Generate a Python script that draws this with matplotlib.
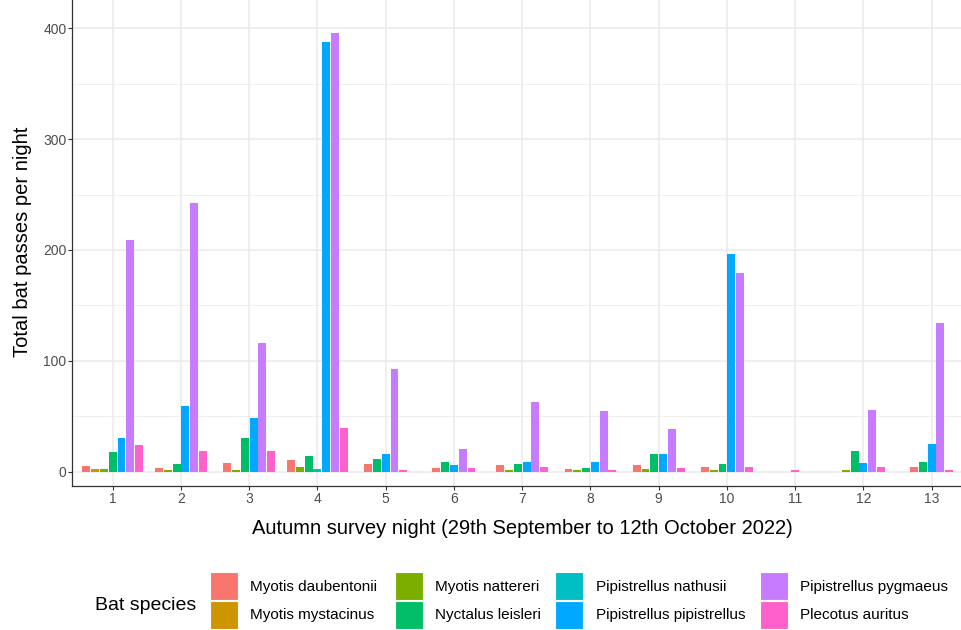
import matplotlib
matplotlib.use("Agg")
import matplotlib.pyplot as plt
from matplotlib.patches import Rectangle

plt.rcParams['font.family'] = ['Liberation Sans', 'DejaVu Sans']

nights = list(range(1, 14))
species = ["Myotis daubentonii", "Myotis mystacinus", "Myotis nattereri",
           "Nyctalus leisleri", "Pipistrellus nathusii", "Pipistrellus pipistrellus",
           "Pipistrellus pygmaeus", "Plecotus auritus"]
colors = ["#F8766D", "#CD9600", "#7CAE00", "#00BE67", "#00BFC4", "#00A9FF",
          "#C77CFF", "#FF61CC"]

m_daubentonii = [5, 3, 8, 10, 7, 3, 6, 2, 6, 4, 0, 0, 4]
m_mystacinus  = [2, 0, 0, 0, 0, 0, 0, 0, 0, 0, 0, 0, 0]
m_nattereri   = [2, 1, 1, 4, 0, 0, 1, 1, 2, 1, 0, 1, 0]
n_leisleri    = [18, 7, 30, 14, 11, 9, 7, 3, 16, 7, 0, 19, 9]
p_nathusii    = [0, 0, 0, 2, 0, 0, 0, 0, 0, 0, 0, 0, 0]
p_pipistrellus = [30, 59, 48, 388, 16, 6, 9, 9, 16, 196, 0, 8, 25]
p_pygmaeus    = [209, 242, 116, 396, 93, 20, 63, 55, 38, 179, 0, 56, 134]
p_auritus     = [24, 19, 19, 39, 1, 3, 4, 1, 3, 4, 1, 4, 1]

values = [m_daubentonii, m_mystacinus, m_nattereri, n_leisleri, p_nathusii,
          p_pipistrellus, p_pygmaeus, p_auritus]

W, H = 962, 630
fig = plt.figure(figsize=(W / 100, H / 100), dpi=100)

left_px, right_px = 71.75, 972.6
top_px, bot_px = -2.0, 486.0
ax = fig.add_axes([left_px / W, 1 - bot_px / H, (right_px - left_px) / W, (bot_px - top_px) / H])

# pixel scale of the reference: zero at 471.56 px, 1.1079 px per pass
scale = 1.1079
zero_px = 471.56
ax.set_xlim(0.4, 13.6)
ax.set_ylim(-(bot_px - zero_px) / scale, (zero_px - top_px) / scale)

# grid
grid_c = "#EBEBEB"
for y in [50, 150, 250, 350]:
    ax.axhline(y, color=grid_c, lw=0.55, zorder=0)
for y in [0, 100, 200, 300, 400]:
    ax.axhline(y, color=grid_c, lw=1.1, zorder=0)
for x in nights:
    ax.axvline(x, color=grid_c, lw=1.1, zorder=0)

nmax = 7
slot = 0.9 / nmax
for ni, night in enumerate(nights):
    present = [si for si in range(len(species)) if values[si][ni] > 0]
    k = len(present)
    for j, si in enumerate(present):
        xc = night + (j - (k - 1) / 2) * slot
        ax.bar(xc, values[si][ni], width=slot * 0.9, color=colors[si],
               edgecolor="none", zorder=2)

ax.set_xticks(nights)
ax.set_xticklabels([str(n) for n in nights])
ax.set_yticks([0, 100, 200, 300, 400])
ax.tick_params(axis='both', colors="#333333", labelcolor="#4D4D4D", labelsize=10,
               length=3, width=0.8)
ax.tick_params(axis='x', pad=1.5)
ax.tick_params(axis='y', pad=0.8)
for sp in ax.spines.values():
    sp.set_color("#333333")
    sp.set_linewidth(0.9)

ax.set_xlabel("Autumn survey night (29th September to 12th October 2022)",
              fontsize=14.5)
ax.xaxis.set_label_coords(0.5, (bot_px - 519.0) / (bot_px - top_px))
ax.set_ylabel("Total bat passes per night", fontsize=14.5, labelpad=8)

# legend (bottom, 4 columns x 2 rows, filled by column)
fig.text(95 / W, 1 - 606 / H, "Bat species", fontsize=14, va='center', ha='left')
key_x = [210, 395, 555, 760]
key_y = [572, 600.5]
key_w, key_h = 28, 28
for si, name in enumerate(species):
    col, row = si // 2, si % 2
    x0 = key_x[col]
    y0 = key_y[row]
    fig.add_artist(Rectangle((x0 / W, 1 - (y0 + key_h) / H), key_w / W, key_h / H,
                             transform=fig.transFigure, facecolor=colors[si],
                             edgecolor="white", lw=0.8))
    fig.text((x0 + key_w + 12.5) / W, 1 - (y0 + key_h / 2 + 0.5) / H, name,
             fontsize=11, va='center', ha='left')

fig.savefig("out.png", dpi=100)
